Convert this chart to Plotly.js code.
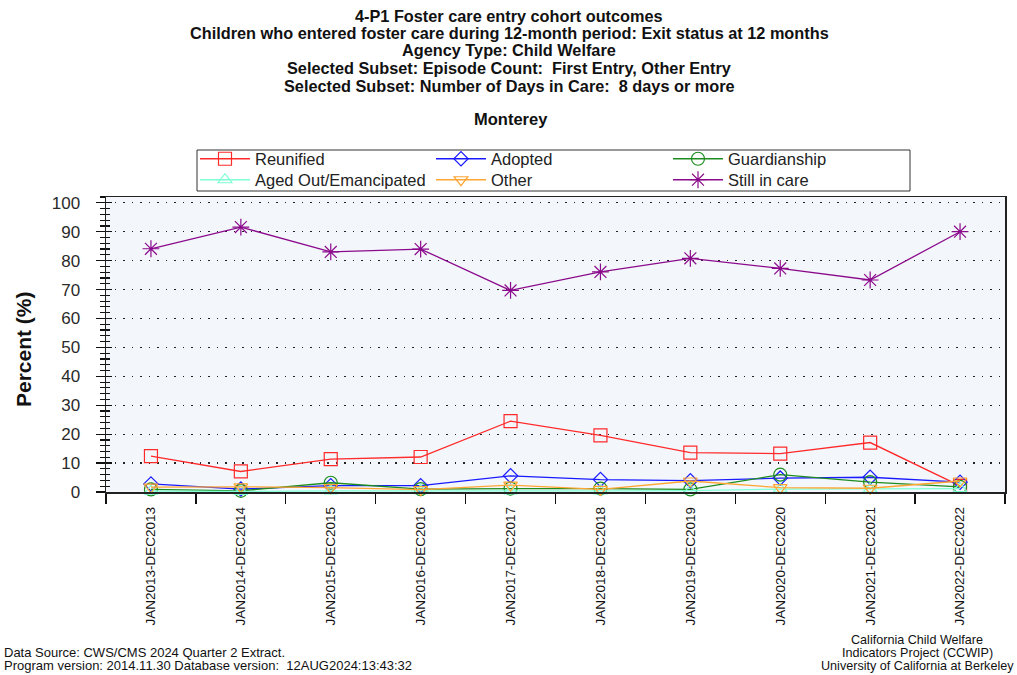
<!DOCTYPE html>
<html>
<head>
<meta charset="utf-8">
<script src="https://cdn.plot.ly/plotly-3.0.1.min.js"></script>
<style>
html, body { margin: 0; padding: 0; background: #ffffff; }
#chart { width: 1017px; height: 675px; }
</style>
</head>
<body>
<div id="chart"></div>
<script>
const categories = [
  "JAN2013-DEC2013", "JAN2014-DEC2014", "JAN2015-DEC2015", "JAN2016-DEC2016",
  "JAN2017-DEC2017", "JAN2018-DEC2018", "JAN2019-DEC2019", "JAN2020-DEC2020",
  "JAN2021-DEC2021", "JAN2022-DEC2022"
];
const reunified    = [12.4, 7.1, 11.4, 12.1, 24.5, 19.6, 13.6, 13.3, 17.1, 2.1];
const adopted      = [2.8, 1.0, 2.2, 2.2, 5.6, 4.3, 3.9, 4.8, 5.1, 3.4];
const guardianship = [0.9, 0.4, 3.2, 1.0, 1.2, 1.2, 0.9, 6.0, 3.4, 1.8];
const agedOut      = [0.3, 0.2, 0.4, 0.5, 0.4, 0.4, 0.5, 1.0, 1.0, 1.2];
const other        = [1.7, 1.8, 1.5, 0.8, 2.4, 0.9, 3.8, 1.5, 1.3, 3.8];
const stillInCare  = [84.1, 91.6, 83.0, 84.0, 69.7, 76.1, 80.8, 77.3, 73.3, 90.0];

const titleLines = [
  "4-P1 Foster care entry cohort outcomes",
  "Children who entered foster care during 12-month period: Exit status at 12 months",
  "Agency Type: Child Welfare",
  "Selected Subset: Episode Count:  First Entry, Other Entry",
  "Selected Subset: Number of Days in Care:  8 days or more"
];
const subtitle = "Monterey";
const footerLeft = [
  "Data Source: CWS/CMS 2024 Quarter 2 Extract.",
  "Program version: 2014.11.30 Database version:  12AUG2024:13:43:32"
];
const footerRight = [
  "California Child Welfare",
  "Indicators Project (CCWIP)",
  "University of California at Berkeley"
];

const seriesNames = ["Reunified", "Adopted", "Guardianship", "Aged Out/Emancipated", "Other", "Still in care"];
const seriesData = [reunified, adopted, guardianship, agedOut, other, stillInCare];
const seriesColors = ["#ff2a2a", "#1a1aff", "#1e8c1e", "#7fffd4", "#ffa533", "#8b0a8b"];
const seriesSymbols = ["square-open", "diamond-open", "circle-open", "triangle-up-open", "triangle-down-open", "asterisk-open"];
const seriesSizes = [13, 11, 13, 12, 12, 14];
const legendIds = ["legend", "legend2", "legend3", "legend4", "legend5", "legend6"];

const traces = seriesNames.map((name, i) => ({
  type: "scatter",
  mode: "lines+markers",
  name: name,
  legend: legendIds[i],
  x: categories,
  y: seriesData[i],
  line: { color: seriesColors[i], width: 1.3 },
  marker: { symbol: seriesSymbols[i], size: seriesSizes[i], color: seriesColors[i], line: { color: seriesColors[i], width: 1.2 } },
  cliponaxis: false
}));

// empty helper trace so the overlaying tick axis is drawn
traces.push({ type: "scatter", x: [], y: [], yaxis: "y2", showlegend: false, hoverinfo: "skip" });

const font = "Liberation Sans, Arial, sans-serif";
const W = 1017, H = 675, ML = 106, MR = 12, MT = 197, MB = 183;
const PW = W - ML - MR, PH = H - MT - MB;
const px = (x) => (x - ML) / PW;
const py = (y) => (H - MB - y) / PH;

function legendAt(xpix, ypix) {
  return {
    orientation: "v",
    x: px(xpix), xanchor: "left",
    y: py(ypix), yanchor: "middle",
    bgcolor: "rgba(0,0,0,0)",
    borderwidth: 0,
    itemwidth: 50,
    tracegroupgap: 0,
    font: { family: font, size: 16.5, color: "#222222" }
  };
}

function textAnn(text, xpix, ypix, size, opts) {
  return Object.assign({
    text: text, xref: "paper", yref: "paper",
    x: px(xpix), y: py(ypix), xanchor: "center", yanchor: "middle",
    showarrow: false, font: { family: font, size: size, color: "#111111" }
  }, opts || {});
}

const titleY = [15.5, 33, 50.5, 68, 85.5];
const annotations = [];
titleLines.forEach((t, i) => annotations.push(textAnn("<b>" + t + "</b>", 509, titleY[i], 16.3)));
annotations.push(textAnn("<b>" + subtitle + "</b>", 511, 119, 16.5));
annotations.push(textAnn("<b>Percent (%)</b>", 23, 349, 21, { textangle: -90 }));
footerLeft.forEach((t, i) => annotations.push(textAnn(t, 2, [652, 665][i], 13, { xanchor: "left" })));
footerRight.forEach((t, i) => annotations.push(textAnn(t, 917, [640, 653, 666][i], 12.6)));

const legendX = [195, 431, 668];
const legendY = [159, 180];

const layout = {
  width: W,
  height: H,
  margin: { l: ML, r: MR, t: MT, b: MB },
  paper_bgcolor: "#ffffff",
  plot_bgcolor: "#f3f7fc",
  font: { family: font, color: "#111111" },
  showlegend: true,
  shapes: [
    {
      type: "rect", xref: "paper", yref: "paper",
      x0: px(197), x1: px(910), y0: py(191), y1: py(150),
      line: { color: "#333333", width: 1 }, fillcolor: "#ffffff", layer: "below"
    }
  ],
  xaxis: {
    type: "category",
    range: [-0.5, 9.5],
    tickson: "boundaries",
    ticks: "outside",
    ticklen: 10,
    tickcolor: "#111111",
    tickwidth: 1.2,
    tickangle: -90,
    ticklabelstandoff: 8,
    tickfont: { family: font, size: 13.5, color: "#111111" },
    showgrid: false,
    showline: true,
    linecolor: "#222222",
    linewidth: 1.5,
    mirror: true,
    zeroline: false,
    fixedrange: true
  },
  yaxis: {
    range: [0, 102],
    dtick: 10,
    tick0: 0,
    ticks: "outside",
    ticklen: 9,
    tickcolor: "#111111",
    tickwidth: 1.2,
    ticklabelstandoff: 12,
    minor: { dtick: 2, ticks: "outside", ticklen: 5, tickcolor: "#111111", showgrid: false },
    tickfont: { family: font, size: 17, color: "#2a2a2a" },
    showgrid: true,
    gridcolor: "#222222",
    griddash: "1.5px,7px",
    gridwidth: 1.3,
    showline: true,
    linecolor: "#222222",
    linewidth: 1.5,
    mirror: true,
    zeroline: false,
    fixedrange: true
  },
  yaxis2: {
    overlaying: "y",
    side: "left",
    anchor: "x",
    range: [0, 102],
    dtick: 10,
    tick0: 0,
    ticks: "inside",
    ticklen: 6,
    tickcolor: "#111111",
    tickwidth: 1.2,
    minor: { dtick: 2, ticks: "inside", ticklen: 4, tickcolor: "#111111", showgrid: false },
    showticklabels: false,
    showgrid: false,
    showline: false,
    zeroline: false,
    fixedrange: true
  },
  annotations: annotations
};

legendIds.forEach((id, i) => {
  layout[id] = legendAt(legendX[i % 3], legendY[Math.floor(i / 3)]);
});

Plotly.newPlot("chart", traces, layout, { displayModeBar: false, staticPlot: true });
</script>
</body>
</html>
